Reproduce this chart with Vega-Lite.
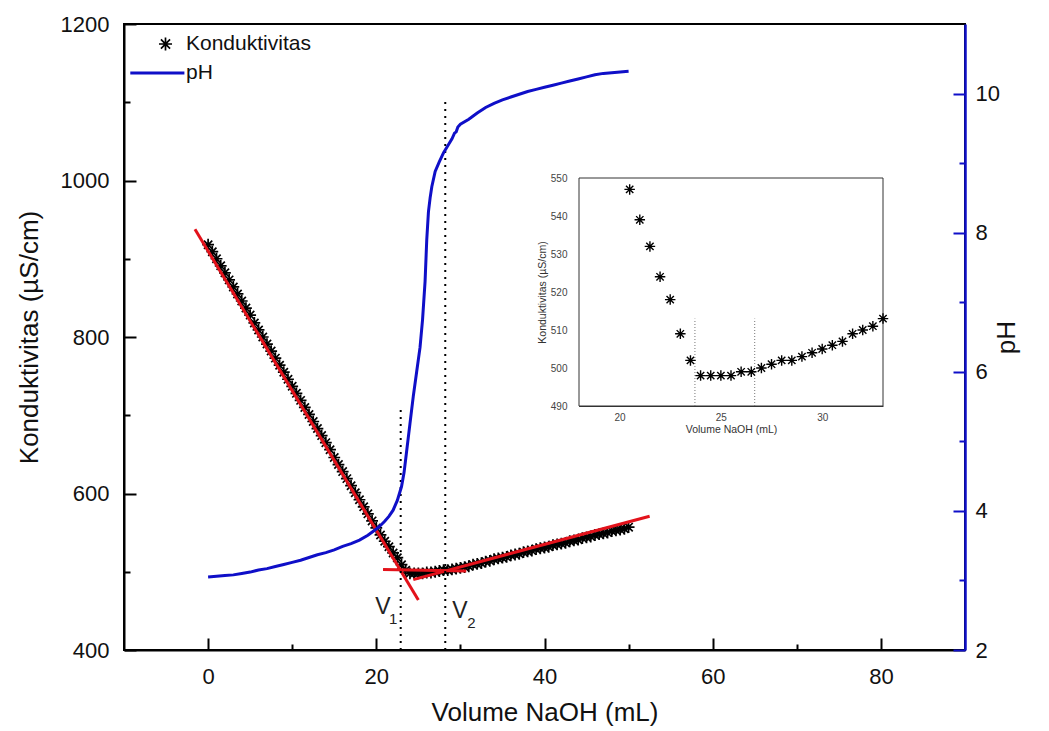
{
  "$schema": "https://vega.github.io/schema/vega-lite/v6.json",
  "width": 841,
  "height": 626,
  "autosize": {"type": "none"},
  "padding": {"left": 124, "top": 24, "right": 84, "bottom": 81},
  "background": "white",
  "config": {
    "font": "Liberation Sans",
    "view": {"stroke": "black", "strokeWidth": 2},
    "axis": {"grid": false, "labelFont": "Liberation Sans", "titleFont": "Liberation Sans", "titleFontWeight": "normal", "labelColor": "#111", "titleColor": "#111", "domainColor": "black", "tickColor": "black"}
  },
  "datasets": {
    "cond": [
      {"v":0,"k":918},{"v":0.5,"k":909},{"v":1,"k":900},{"v":1.5,"k":891},{"v":2,"k":882},{"v":2.5,"k":873},{"v":3,"k":864},{"v":3.5,"k":855},{"v":4,"k":846},{"v":4.5,"k":837},
      {"v":5,"k":828},{"v":5.5,"k":818},{"v":6,"k":809},{"v":6.5,"k":800},{"v":7,"k":791},{"v":7.5,"k":782},{"v":8,"k":773},{"v":8.5,"k":764},{"v":9,"k":755},{"v":9.5,"k":746},
      {"v":10,"k":737},{"v":10.5,"k":728},{"v":11,"k":719},{"v":11.5,"k":710},{"v":12,"k":701},{"v":12.5,"k":692},{"v":13,"k":683},{"v":13.5,"k":674},{"v":14,"k":665},{"v":14.5,"k":656},
      {"v":15,"k":646},{"v":15.5,"k":637},{"v":16,"k":628},{"v":16.5,"k":619},{"v":17,"k":610},{"v":17.5,"k":601},{"v":18,"k":592},{"v":18.5,"k":583},{"v":19,"k":574},{"v":19.5,"k":565},
      {"v":20,"k":556},{"v":20.5,"k":547},{"v":21,"k":539},{"v":21.5,"k":532},{"v":22,"k":524},{"v":22.5,"k":518},{"v":23,"k":509},{"v":23.5,"k":502},{"v":24,"k":498},{"v":24.5,"k":498},
      {"v":25,"k":498},{"v":25.5,"k":498},{"v":26,"k":499},{"v":26.5,"k":499},{"v":27,"k":500},{"v":27.5,"k":501},{"v":28,"k":502},{"v":28.5,"k":502},{"v":29,"k":503},{"v":29.5,"k":504},
      {"v":30,"k":505},{"v":30.5,"k":506},{"v":31,"k":507},{"v":31.5,"k":509},{"v":32,"k":510},{"v":32.5,"k":511},{"v":33,"k":513},{"v":33.5,"k":514},{"v":34,"k":516},{"v":34.5,"k":517},
      {"v":35,"k":518},{"v":35.5,"k":519},{"v":36,"k":521},{"v":36.5,"k":522},{"v":37,"k":523},{"v":37.5,"k":525},{"v":38,"k":526},{"v":38.5,"k":527},{"v":39,"k":529},{"v":39.5,"k":530},
      {"v":40,"k":531},{"v":40.5,"k":532},{"v":41,"k":534},{"v":41.5,"k":535},{"v":42,"k":536},{"v":42.5,"k":537},{"v":43,"k":539},{"v":43.5,"k":540},{"v":44,"k":541},{"v":44.5,"k":543},
      {"v":45,"k":544},{"v":45.5,"k":545},{"v":46,"k":547},{"v":46.5,"k":548},{"v":47,"k":549},{"v":47.5,"k":550},{"v":48,"k":552},{"v":48.5,"k":553},{"v":49,"k":554},{"v":49.5,"k":555},
      {"v":50,"k":557}
    ],
    "ph": [
      {"v":0,"ph":3.05},{"v":1,"ph":3.06},{"v":2,"ph":3.07},{"v":3,"ph":3.08},{"v":4,"ph":3.1},{"v":5,"ph":3.12},{"v":6,"ph":3.15},{"v":7,"ph":3.17},{"v":8,"ph":3.2},{"v":9,"ph":3.23},
      {"v":10,"ph":3.26},{"v":11,"ph":3.29},{"v":12,"ph":3.33},{"v":13,"ph":3.37},{"v":14,"ph":3.4},{"v":15,"ph":3.44},{"v":16,"ph":3.49},{"v":17,"ph":3.53},{"v":18,"ph":3.58},{"v":19,"ph":3.65},
      {"v":20,"ph":3.74},{"v":20.5,"ph":3.79},{"v":21,"ph":3.85},{"v":21.5,"ph":3.92},{"v":22,"ph":4.01},{"v":22.5,"ph":4.15},{"v":23,"ph":4.35},{"v":23.3,"ph":4.55},{"v":23.6,"ph":4.85},{"v":24,"ph":5.25},
      {"v":24.4,"ph":5.65},{"v":24.8,"ph":6.0},{"v":25.2,"ph":6.35},{"v":25.5,"ph":6.75},{"v":25.8,"ph":7.3},{"v":26,"ph":7.9},{"v":26.2,"ph":8.3},{"v":26.4,"ph":8.5},{"v":26.6,"ph":8.66},{"v":27,"ph":8.88},
      {"v":27.5,"ph":9.02},{"v":28,"ph":9.15},{"v":28.5,"ph":9.25},{"v":29,"ph":9.35},{"v":29.3,"ph":9.43},{"v":29.5,"ph":9.45},{"v":29.7,"ph":9.52},{"v":30,"ph":9.56},{"v":31,"ph":9.63},{"v":32,"ph":9.72},
      {"v":33,"ph":9.8},{"v":34,"ph":9.86},{"v":35,"ph":9.91},{"v":36,"ph":9.95},{"v":37,"ph":9.99},{"v":38,"ph":10.03},{"v":39,"ph":10.06},{"v":40,"ph":10.09},{"v":41,"ph":10.12},{"v":42,"ph":10.15},
      {"v":43,"ph":10.18},{"v":44,"ph":10.21},{"v":45,"ph":10.24},{"v":46,"ph":10.27},{"v":47,"ph":10.29},{"v":48,"ph":10.3},{"v":49,"ph":10.31},{"v":50,"ph":10.32}
    ],
    "fits": [
      {"line":"L1","v":-1.56,"k":937.6},{"line":"L1","v":25.0,"k":464},
      {"line":"L2","v":20.8,"k":503},{"line":"L2","v":30.7,"k":501},
      {"line":"L3","v":24.4,"k":490},{"line":"L3","v":52.5,"k":571}
    ],
    "vmarks": [{"v":22.9,"k1":400,"k2":707},{"v":28.2,"k1":400,"k2":1101}],
    "vlabels": [{"t":"V","v":20.8,"k":455},{"t":"V","v":29.95,"k":450}],
    "vsubs": [{"t":"1","v":22.0,"k":440},{"t":"2","v":31.3,"k":435}],
    "insetmarks": [{"v":23.72,"k1":490,"k2":513},{"v":26.67,"k1":490,"k2":513}],
    "frame": [{"name":"inset"}]
  },
  "resolve": {"scale": {"x": "independent", "y": "independent"}, "axis": {"x": "independent", "y": "independent"}},
  "layer": [
    {
      "data": {"name": "cond"},
      "mark": {"type": "point", "filled": false, "size": 140, "opacity": 1},
      "encoding": {
        "x": {"field": "v", "type": "quantitative", "scale": {"domain": [-10, 90], "nice": false, "zero": false},
          "axis": {"orient": "bottom", "title": "Volume NaOH (mL)", "values": [0,10,20,30,40,50,60,70,80], "labelExpr": "datum.value % 20 === 0 ? datum.label : ''", "tickSize": {"condition": {"test": "datum.value % 20 === 0", "value": -12}, "value": -6}, "tickWidth": 2, "domainWidth": 2, "labelFontSize": 22, "labelPadding": 28, "titleFontSize": 26, "titlePadding": 12}},
        "y": {"field": "k", "type": "quantitative", "scale": {"domain": [400, 1200], "nice": false, "zero": false},
          "axis": {"orient": "left", "title": "Konduktivitas (µS/cm)", "format": "d", "values": [400,500,600,700,800,900,1000,1100,1200], "labelExpr": "datum.value % 200 === 0 ? datum.label : ''", "tickSize": {"condition": {"test": "datum.value % 200 === 0", "value": -12}, "value": -6}, "tickWidth": 2, "domainWidth": 2, "labelFontSize": 22, "labelPadding": 27, "titleFontSize": 26, "titlePadding": 18}},
        "color": {"datum": "Konduktivitas", "type": "nominal", "scale": {"domain": ["Konduktivitas", "pH"], "range": ["black", "#0f0fc8"]},
          "legend": {"orient": "none", "legendX": 4, "legendY": 9, "title": null, "padding": 0, "labelFont": "Liberation Sans", "labelFontSize": 21, "labelColor": "#111", "symbolSize": 170, "symbolOffset": 27, "labelOffset": 10, "clipHeight": 22, "rowPadding": 7}},
        "shape": {"datum": "Konduktivitas", "type": "nominal", "scale": {"domain": ["Konduktivitas", "pH"], "range": ["M-1,0L1,0M0,-1L0,1M-0.7,-0.7L0.7,0.7M-0.7,0.7L0.7,-0.7", "M-5.4,0L2.9,0"]}},
        "strokeWidth": {"datum": "Konduktivitas", "type": "nominal", "scale": {"domain": ["Konduktivitas", "pH"], "range": [1.7, 3]}}
      }
    },
    {
      "data": {"name": "fits"},
      "mark": {"type": "line", "color": "#e3121b", "strokeWidth": 3},
      "encoding": {
        "x": {"field": "v", "type": "quantitative", "scale": {"domain": [-10, 90], "nice": false, "zero": false}, "axis": null},
        "y": {"field": "k", "type": "quantitative", "scale": {"domain": [400, 1200], "nice": false, "zero": false}, "axis": null},
        "detail": {"field": "line", "type": "nominal"}
      }
    },
    {
      "data": {"name": "vmarks"},
      "mark": {"type": "rule", "color": "black", "strokeWidth": 2, "strokeDash": [2, 5]},
      "encoding": {
        "x": {"field": "v", "type": "quantitative", "scale": {"domain": [-10, 90], "nice": false, "zero": false}, "axis": null},
        "y": {"field": "k1", "type": "quantitative", "scale": {"domain": [400, 1200], "nice": false, "zero": false}, "axis": null},
        "y2": {"field": "k2"}
      }
    },
    {
      "data": {"name": "vlabels"},
      "mark": {"type": "text", "fontSize": 23, "color": "#222", "align": "center", "baseline": "middle"},
      "encoding": {
        "x": {"field": "v", "type": "quantitative", "scale": {"domain": [-10, 90], "nice": false, "zero": false}, "axis": null},
        "y": {"field": "k", "type": "quantitative", "scale": {"domain": [400, 1200], "nice": false, "zero": false}, "axis": null},
        "text": {"field": "t"}
      }
    },
    {
      "data": {"name": "vsubs"},
      "mark": {"type": "text", "fontSize": 15, "color": "#222", "align": "center", "baseline": "middle"},
      "encoding": {
        "x": {"field": "v", "type": "quantitative", "scale": {"domain": [-10, 90], "nice": false, "zero": false}, "axis": null},
        "y": {"field": "k", "type": "quantitative", "scale": {"domain": [400, 1200], "nice": false, "zero": false}, "axis": null},
        "text": {"field": "t"}
      }
    },
    {
      "data": {"name": "ph"},
      "mark": {"type": "line", "strokeWidth": 3},
      "encoding": {
        "x": {"field": "v", "type": "quantitative", "scale": {"domain": [-10, 90], "nice": false, "zero": false}, "axis": null},
        "y": {"field": "ph", "type": "quantitative", "scale": {"domain": [2, 11], "nice": false, "zero": false},
          "axis": {"orient": "right", "title": "pH", "titleAngle": -90, "values": [2,3,4,5,6,7,8,9,10], "labelExpr": "datum.value % 2 === 0 ? datum.label : ''", "tickSize": {"condition": {"test": "datum.value % 2 === 0", "value": -12}, "value": -6}, "tickWidth": 2, "domainWidth": 2.5, "domainColor": "#0f0fc8", "tickColor": "#0f0fc8", "labelFontSize": 22, "labelPadding": 22, "titleFontSize": 26, "titlePadding": 20}},
        "color": {"datum": "pH", "type": "nominal", "legend": null}
      }
    },
    {
      "data": {"name": "frame"},
      "mark": {"type": "rect", "fill": "white", "stroke": "#333", "strokeWidth": 1},
      "encoding": {
        "x": {"datum": 18, "type": "quantitative", "scale": {"domain": [18, 33], "range": [455, 759], "nice": false, "zero": false}, "axis": null},
        "x2": {"datum": 33},
        "y": {"datum": 490, "type": "quantitative", "scale": {"domain": [490, 550], "range": [382, 154], "nice": false, "zero": false}, "axis": null},
        "y2": {"datum": 550}
      }
    },
    {
      "data": {"name": "insetmarks"},
      "mark": {"type": "rule", "color": "#777", "strokeWidth": 1, "strokeDash": [1, 2]},
      "encoding": {
        "x": {"field": "v", "type": "quantitative", "scale": {"domain": [18, 33], "range": [455, 759], "nice": false, "zero": false}, "axis": null},
        "y": {"field": "k1", "type": "quantitative", "scale": {"domain": [490, 550], "range": [382, 154], "nice": false, "zero": false}, "axis": null},
        "y2": {"field": "k2"}
      }
    },
    {
      "data": {"name": "cond"},
      "transform": [{"filter": "datum.v >= 20.5 && datum.v <= 33"}],
      "mark": {"type": "point", "shape": "M-1,0L1,0M0,-1L0,1M-0.7,-0.7L0.7,0.7M-0.7,0.7L0.7,-0.7", "filled": false, "size": 110, "stroke": "black", "strokeWidth": 1.4, "opacity": 1},
      "encoding": {
        "x": {"field": "v", "type": "quantitative", "scale": {"domain": [18, 33], "range": [455, 759], "nice": false, "zero": false},
          "axis": {"orient": "bottom", "offset": -244, "title": "Volume NaOH (mL)", "values": [20,22.5,25,27.5,30,32.5], "labelExpr": "datum.value % 5 === 0 ? datum.label : ''", "tickSize": {"condition": {"test": "datum.value % 5 === 0", "value": -5}, "value": -3}, "tickWidth": 1, "domainWidth": 1, "domainColor": "#333", "tickColor": "#333", "labelColor": "#444", "titleColor": "#333", "labelFontSize": 10, "labelPadding": 11, "titleFontSize": 10.5, "titlePadding": 2}},
        "y": {"field": "k", "type": "quantitative", "scale": {"domain": [490, 550], "range": [382, 154], "nice": false, "zero": false},
          "axis": {"orient": "left", "offset": -455, "title": "Konduktivitas (µS/cm)", "values": [490,495,500,505,510,515,520,525,530,535,540,545,550], "labelExpr": "datum.value % 10 === 0 ? datum.label : ''", "tickSize": {"condition": {"test": "datum.value % 10 === 0", "value": -5}, "value": -3}, "tickWidth": 1, "domainWidth": 1, "domainColor": "#333", "tickColor": "#333", "labelColor": "#444", "titleColor": "#333", "labelFontSize": 10, "labelPadding": 17, "titleFontSize": 10.5, "titlePadding": 3}}
      }
    }
  ]
}
